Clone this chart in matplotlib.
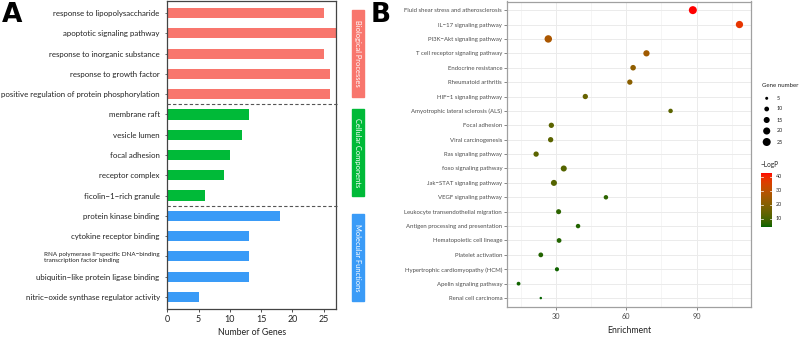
import numpy as np
import matplotlib
matplotlib.use("Agg")
import matplotlib.pyplot as plt
from matplotlib.colors import ListedColormap, Normalize
from matplotlib.patches import Rectangle

plt.rcParams['font.family'] = ['Lato', 'DejaVu Sans']

# ---------------- Data: panel A ----------------
go_terms = [
    "response to lipopolysaccharide",
    "apoptotic signaling pathway",
    "response to inorganic substance",
    "response to growth factor",
    "positive regulation of protein phosphorylation",
    "membrane raft",
    "vesicle lumen",
    "focal adhesion",
    "receptor complex",
    "ficolin\u22121\u2212rich granule",
    "protein kinase binding",
    "cytokine receptor binding",
    "RNA polymerase II\u2212specific DNA\u2212binding\ntranscription factor binding",
    "ubiquitin\u2212like protein ligase binding",
    "nitric\u2212oxide synthase regulator activity",
]
go_counts = [25, 27, 25, 26, 26, 13, 12, 10, 9, 6, 18, 13, 13, 13, 5]
go_groups = ["Biological Processes"] * 5 + ["Cellular Components"] * 5 + ["Molecular Functions"] * 5
group_names = ["Biological Processes", "Cellular Components", "Molecular Functions"]
group_colors = {"Biological Processes": "#F8766D",
                "Cellular Components": "#00BA38",
                "Molecular Functions": "#3A9BF7"}

# ---------------- Data: panel B ----------------
pathways = [
    "Fluid shear stress and atherosclerosis",
    "IL\u221217 signaling pathway",
    "PI3K\u2212Akt signaling pathway",
    "T cell receptor signaling pathway",
    "Endocrine resistance",
    "Rheumatoid arthritis",
    "HIF\u22121 signaling pathway",
    "Amyotrophic lateral sclerosis (ALS)",
    "Focal adhesion",
    "Viral carcinogenesis",
    "Ras signaling pathway",
    "foxo signaling pathway",
    "Jak\u2212STAT signaling pathway",
    "VEGF signaling pathway",
    "Leukocyte transendothelial migration",
    "Antigen processing and presentation",
    "Hematopoietic cell lineage",
    "Platelet activation",
    "Hypertrophic cardiomyopathy (HCM)",
    "Apelin signaling pathway",
    "Renal cell carcinoma",
]
enrichment = [88.4, 108.3, 26.7, 68.6, 62.9, 61.5, 42.5, 78.9, 28.0, 27.7, 21.5,
              33.3, 29.1, 51.3, 31.1, 39.4, 31.3, 23.5, 30.4, 14.0, 23.5]
gene_number = [25, 21, 22, 16, 13, 12, 12, 9, 12, 12, 12, 15, 15, 9, 11, 9, 10, 10, 8, 7, 4]
neg_logp = [42.5, 38, 27, 25, 22, 21, 15, 13, 13, 13, 13, 12, 12, 7, 7, 6, 6, 6, 5, 5, 4.5]
size_legend_values = [5, 10, 15, 20, 25]
logp_ticks = [10, 20, 30, 40]

# ---------------- helpers ----------------
W, H = 803, 337
fig = plt.figure(figsize=(W / 100, H / 100), dpi=100)

def rect(l, t, r, b):
    return [l / W, 1 - b / H, (r - l) / W, (b - t) / H]

def fx(x):
    return x / W

def fy(y):
    return 1 - y / H

# Lab-space gradient darkgreen -> red (ggplot style)
def srgb_to_lab(c):
    c = np.asarray(c, float)
    lin = np.where(c <= 0.04045, c / 12.92, ((c + 0.055) / 1.055) ** 2.4)
    M = np.array([[0.4124, 0.3576, 0.1805], [0.2126, 0.7152, 0.0722], [0.0193, 0.1192, 0.9505]])
    xyz = M @ lin / np.array([0.95047, 1.0, 1.08883])
    f = np.where(xyz > 0.008856, np.cbrt(xyz), 7.787 * xyz + 16 / 116)
    return np.array([116 * f[1] - 16, 500 * (f[0] - f[1]), 200 * (f[1] - f[2])])

def lab_to_srgb(lab):
    L, a, b = lab
    fyv = (L + 16) / 116
    fxv = fyv + a / 500
    fzv = fyv - b / 200
    f = np.array([fxv, fyv, fzv])
    xyz = np.where(f ** 3 > 0.008856, f ** 3, (f - 16 / 116) / 7.787) * np.array([0.95047, 1.0, 1.08883])
    Minv = np.array([[3.2406, -1.5372, -0.4986], [-0.9689, 1.8758, 0.0415], [0.0557, -0.2040, 1.0570]])
    lin = Minv @ xyz
    lin = np.clip(lin, 0, 1)
    c = np.where(lin <= 0.0031308, 12.92 * lin, 1.055 * lin ** (1 / 2.4) - 0.055)
    return np.clip(c, 0, 1)

lo = srgb_to_lab([0, 100 / 255, 0])
hi = srgb_to_lab([1, 0, 0])
cm_colors = [lab_to_srgb(lo + (hi - lo) * t) for t in np.linspace(0, 1, 256)]
cmap = ListedColormap(cm_colors)
norm = Normalize(vmin=4.3, vmax=42.6)

# ---------------- Panel A ----------------
axA = fig.add_axes(rect(167.3, 1, 336, 309))
n = len(go_terms)
ypos = np.arange(n)
axA.barh(ypos, go_counts, height=0.5, color=[group_colors[g] for g in go_groups], zorder=2)
axA.set_ylim(n - 0.4, -0.6)
axA.set_xlim(0, 27)
axA.set_xticks([0, 5, 10, 15, 20, 25])
axA.set_yticks(ypos)
axA.set_yticklabels(go_terms, fontsize=5.65, color="#222222")
for lab in axA.get_yticklabels():
    if "\n" in lab.get_text():
        lab.set_fontsize(4.5)
        lab.set_multialignment("left")
axA.tick_params(axis="y", length=1.5, width=0.5, pad=4, color="#333333")
axA.tick_params(axis="x", length=2.5, width=0.6, pad=1.5, labelsize=6.4, color="#333333", labelcolor="#222222")
for s in axA.spines.values():
    s.set_color("#444444")
    s.set_linewidth(0.9)
axA.set_xlabel("Number of Genes", fontsize=6.3, color="#222222", labelpad=3)
for yb in [4.5, 9.5]:
    axA.plot([0, 27.3], [yb, yb], color="#555555", lw=0.8, ls=(0, (3, 2)), zorder=3, clip_on=False)

# Group boxes
box_spans = {"Biological Processes": (10, 97.3),
             "Cellular Components": (109, 195.7),
             "Molecular Functions": (214, 300.7)}
for g in group_names:
    t, b = box_spans[g]
    fig.patches.append(Rectangle((fx(351.7), fy(b)), (364.3 - 351.7) / W, (b - t) / H,
                                 transform=fig.transFigure, color=group_colors[g], zorder=1))
    fig.text(fx(358), fy((t + b) / 2), g, rotation=-90, ha="center", va="center",
             fontsize=5.4, color="white")

# ---------------- Panel B ----------------
axB = fig.add_axes(rect(507.3, 1.5, 750.7, 306.7))
m = len(pathways)
yb_pos = np.arange(m)
sizes = [(max(-4.75 + 2.75 * v, 1.0)) * 0.72 ** 2 for v in gene_number]
axB.scatter(enrichment, yb_pos, s=sizes, c=neg_logp, cmap=cmap, norm=norm, zorder=3, linewidths=0)
axB.set_xlim(9.2, 113.1)
axB.set_ylim(m - 0.4, -0.6)
axB.set_xticks([30, 60, 90])
axB.set_xticks([15, 45, 75, 105], minor=True)
axB.set_yticks(yb_pos)
axB.set_yticklabels(pathways, fontsize=4.35, color="#4D4D4D")
axB.grid(True, which="major", color="#EBEBEB", lw=0.7, zorder=0)
axB.grid(True, which="minor", axis="x", color="#F2F2F2", lw=0.5, zorder=0)
axB.set_axisbelow(True)
axB.tick_params(axis="both", which="major", length=2.2, width=0.5, color="#555555")
axB.tick_params(axis="x", which="minor", length=0)
axB.tick_params(axis="y", pad=1.5)
axB.tick_params(axis="x", labelsize=5.3, labelcolor="#4D4D4D", pad=2)
for s in axB.spines.values():
    s.set_color("#A0A0A0")
    s.set_linewidth(0.9)
axB.set_xlabel("Enrichment", fontsize=6.3, color="#222222", labelpad=5)

# Size legend
fig.text(fx(761.7), fy(86), "Gene number", fontsize=4.4, color="#222222", ha="left", va="center")
leg_ys = [98.3, 109, 120, 131, 142]
for v, yy in zip(size_legend_values, leg_ys):
    fig.text(fx(776.5), fy(yy), str(v), fontsize=3.9, color="#222222", ha="left", va="center")
axL = fig.add_axes([0, 0, 1, 1], facecolor="none")
axL.set_xlim(0, W)
axL.set_ylim(H, 0)
axL.axis("off")
axL.scatter([766.7] * 5, leg_ys, s=[(-4.75 + 2.75 * v) * 0.72 ** 2 for v in size_legend_values],
            color="black", linewidths=0)

# Colour bar
fig.text(fx(761), fy(165), "\u2212LogP", fontsize=4.7, color="#222222", ha="left", va="center")
cax = fig.add_axes(rect(761.3, 173, 772.3, 227))
grad = np.linspace(norm.vmin, norm.vmax, 256).reshape(-1, 1)
cax.imshow(grad, aspect="auto", cmap=cmap, norm=norm, origin="lower",
           extent=[0, 1, norm.vmin, norm.vmax])
cax.set_xticks([])
cax.set_yticks([])
for s in cax.spines.values():
    s.set_visible(False)
for t in logp_ticks:
    cax.plot([0, 0.2], [t, t], color="white", lw=0.5)
    cax.plot([0.8, 1], [t, t], color="white", lw=0.5)
    fig.text(fx(776), fy(227 - (t - norm.vmin) / (norm.vmax - norm.vmin) * 54), str(t),
             fontsize=3.9, color="#222222", ha="left", va="center")
cax.set_xlim(0, 1)
cax.set_ylim(norm.vmin, norm.vmax)

# Panel letters
fig.text(fx(2), fy(15), "A", fontsize=19, fontweight="bold", ha="left", va="center", family="DejaVu Sans")
fig.text(fx(371), fy(15), "B", fontsize=19, fontweight="bold", ha="left", va="center", family="DejaVu Sans")

fig.savefig("out.png", dpi=100)
